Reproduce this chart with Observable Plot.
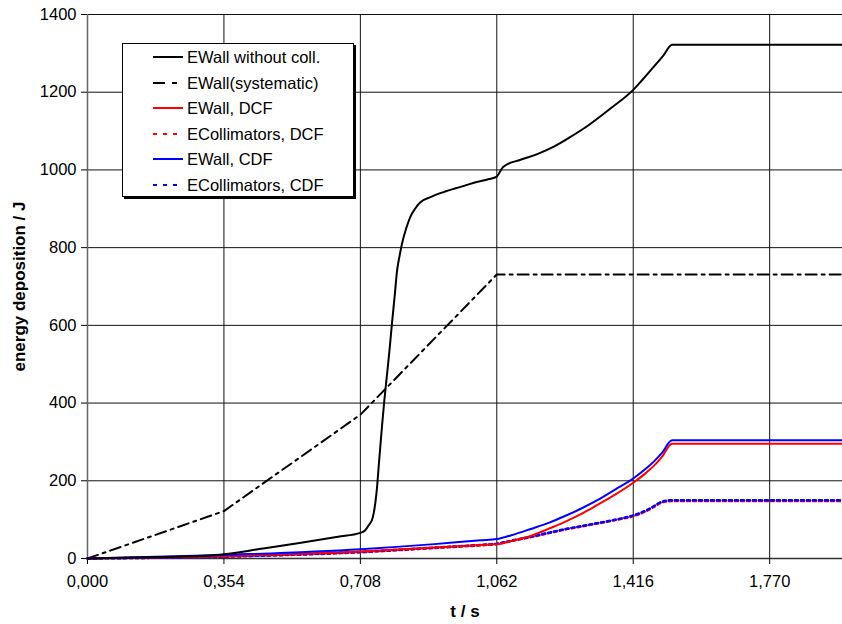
<!DOCTYPE html>
<html>
<head>
<meta charset="utf-8">
<script src="https://cdn.jsdelivr.net/npm/d3@7"></script>
<script src="https://cdn.jsdelivr.net/npm/@observablehq/plot@0.6"></script>
<style>
  html, body { margin: 0; padding: 0; background: #fff; }
  #wrap { position: relative; width: 842px; height: 624px; font-family: "Liberation Sans", Arial, sans-serif; }
  #legend { position: absolute; left: 122px; top: 43px; width: 230px; height: 152px; border: 1px solid #000; box-shadow: 2px 2px 0 #000; background: #fff; }
  .row { position: absolute; left: 0; height: 20px; }
  .row svg { position: absolute; left: 30px; top: 4px; }
  .row span { position: absolute; left: 64px; top: 0; font-size: 16.5px; line-height: 20px; white-space: nowrap; color: #000; }
</style>
</head>
<body>
<div id="wrap"><div id="legend"></div></div>
<script>
// ---- data ----
const xTicks = [0, 0.354, 0.708, 1.062, 1.416, 1.770];
const yTicks = [0, 200, 400, 600, 800, 1000, 1200, 1400];

const wallNoCollT = [0, 0.1, 0.2, 0.3, 0.354, 0.45, 0.55, 0.65, 0.708, 0.72, 0.73, 0.74, 0.75, 0.757, 0.764, 0.77, 0.777, 0.784, 0.79, 0.797, 0.803, 0.81, 0.816, 0.827, 0.838, 0.85, 0.863, 0.89, 0.924, 0.97, 1.01, 1.04, 1.062, 1.07, 1.078, 1.088, 1.12, 1.17, 1.21, 1.25, 1.30, 1.357, 1.416, 1.44, 1.469, 1.493, 1.517, 1.96];
const wallNoCollE = [0, 2, 4, 7, 11, 25, 40, 56, 66, 72, 86, 105, 170, 255, 339, 405, 472, 540, 605, 675, 739, 780, 810, 850, 880, 900, 916, 930, 943, 957, 969, 976, 983, 995, 1007, 1014, 1025, 1042, 1060, 1083, 1115, 1158, 1206, 1232, 1265, 1293, 1322, 1322];

const sysT = [0, 0.354, 0.708, 1.062, 1.96];
const sysE = [0, 122, 370, 731, 731];

const fT = [0, 0.354, 0.708, 0.9, 1.02, 1.062, 1.1, 1.15, 1.2, 1.236, 1.28, 1.323, 1.37, 1.416, 1.45, 1.47, 1.49, 1.517, 1.96];
const wallDCF = [0, 6, 18, 28, 35, 37, 45, 58, 78, 93, 114, 138, 165, 195, 221, 239, 261, 295, 295];
const collDCF = [0, 5, 16, 27, 34, 37, 45, 55, 66, 74, 82, 90, 99, 109, 122, 133, 144, 148, 148];
const wallCDF = [0, 9, 24, 37, 47, 50, 60, 76, 93, 108, 128, 150, 178, 206, 232, 250, 271, 304, 304];
const collCDF = [0, 5, 17, 28, 35, 38, 46, 56, 67, 75, 83, 91, 100, 111, 124, 135, 146, 150, 150];

const seriesNames = ["EWall without coll.", "EWall(systematic)", "EWall, DCF", "ECollimators, DCF", "EWall, CDF", "ECollimators, CDF"];
const seriesColors = ["#000000", "#000000", "#ff0000", "#ff0000", "#0000ff", "#0000ff"];
const seriesDash = [null, "11,5,3,5", null, "3,3", null, "3,3"];

const zip = (t, e) => t.map((x, i) => ({t: x, e: e[i]}));
const lineData = [
  zip(wallNoCollT, wallNoCollE),
  zip(sysT, sysE),
  zip(fT, wallDCF),
  zip(fT, collDCF),
  zip(fT, wallCDF),
  zip(fT, collCDF)
];
const drawOrder = [1, 3, 5, 2, 4, 0];

const fmt = d => d.toFixed(3).replace(".", ",");

const chart = Plot.plot({
  width: 842,
  height: 624,
  marginLeft: 87,
  marginRight: 0,
  marginTop: 14,
  marginBottom: 66,
  style: {fontFamily: "'Liberation Sans', Arial, sans-serif", fontSize: "16.5px", color: "#000", background: "#fff"},
  x: {domain: [0, 1.959], label: null},
  y: {domain: [0, 1400], label: null},
  marks: [
    Plot.gridX(xTicks, {stroke: "#111", strokeOpacity: 1}),
    Plot.gridY(yTicks, {stroke: "#111", strokeOpacity: 1}),
    Plot.ruleX([0], {stroke: "#666", strokeWidth: 1.5}),
    Plot.ruleY([0], {stroke: "#333", strokeWidth: 1.5}),
    Plot.axisX({ticks: xTicks, tickFormat: fmt, tickSize: 6, tickPadding: 11, label: null, stroke: "#000", fontSize: 16.5}),
    Plot.axisY({ticks: yTicks, tickFormat: d => String(d), tickSize: 6, tickPadding: 5, label: null, stroke: "#000", fontSize: 16.5}),
    ...drawOrder.map(i => Plot.line(lineData[i], {
      x: "t", y: "e",
      stroke: seriesColors[i],
      strokeWidth: seriesDash[i] === "3,3" ? 2.5 : 2,
      strokeDasharray: seriesDash[i],
      strokeLinejoin: "round",
      curve: i === 1 ? "linear" : "monotone-x"
    })),
    Plot.text(["t / s"], {text: d => d, frameAnchor: "bottom", lineAnchor: "middle", dy: 53, fontWeight: "bold", fontSize: 17}),
    Plot.text(["energy deposition / J"], {text: d => d, frameAnchor: "left", textAnchor: "middle", lineAnchor: "middle", dx: -68, rotate: -90, fontWeight: "bold", fontSize: 17})
  ]
});
document.getElementById("wrap").prepend(chart);

// legend
const legend = document.getElementById("legend");
seriesNames.forEach((name, i) => {
  const row = document.createElement("div");
  row.className = "row";
  row.style.top = (3 + i * 25.5) + "px";
  row.style.width = "100%";
  const dash = seriesDash[i] === "11,5,3,5" ? "12,7,5,10" : (seriesDash[i] === "3,3" ? "4,6" : "none");
  row.innerHTML = `<svg width="32" height="12"><line x1="0" y1="6" x2="30" y2="6" stroke="${seriesColors[i]}" stroke-width="2" stroke-dasharray="${dash}"/></svg><span>${name}</span>`;
  legend.appendChild(row);
});
</script>
</body>
</html>
